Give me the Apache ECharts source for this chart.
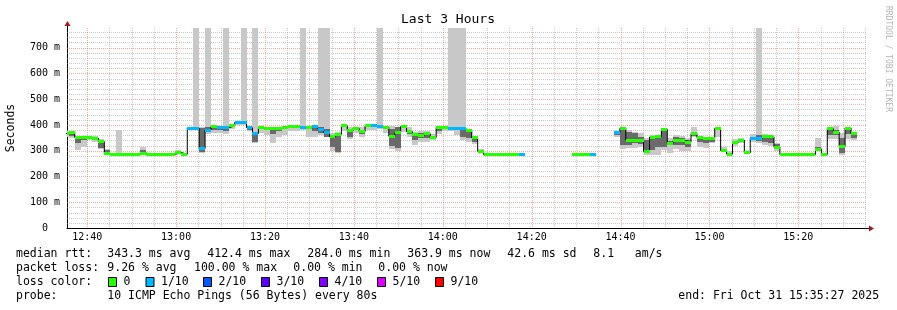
<!DOCTYPE html>
<html><head><meta charset="utf-8">
<script src="https://cdn.jsdelivr.net/npm/echarts@6/dist/echarts.min.js"></script>
<style>html,body{margin:0;padding:0;background:#fff}#c{width:897px;height:310px}</style>
</head><body><div id="c"></div>
<script>
// ---- time axis (minutes of the day) ----
const START_MIN = 755.45;          // 12:35:27
const END_MIN = 935.45;            // 15:35:27
const FIRST_STEP_END = 755.85;     // 12:35:51, end of step 0
const STEP_MIN = 80 / 60;          // 80 s steps
const Y_MAX = 776;

const xMajorTicks = [760, 780, 800, 820, 840, 860, 880, 900, 920];
const xMinorTicks = [765,770,775,785,790,795,805,810,815,825,830,835,845,850,855,865,870,875,885,890,895,905,910,915,925,930,935];
const yMajorTicks = [100, 200, 300, 400, 500, 600, 700];
const yMinorTicks = [20,40,60,80,120,140,160,180,220,240,260,280,320,340,360,380,420,440,460,480,520,540,560,580,620,640,660,680,720,740,760];

// ---- per-step data (ms), step k covers [FIRST_STEP_END+(k-1)*80s, FIRST_STEP_END+k*80s] ----
const median = [
 367,372,352,351,350,348,335,288,286,286,
 286,286,286,291,286,286,286,286,286,293,
 286,388,388,308,380,393,389,389,396,410,
 410,389,366,389,387,387,387,390,392,392,
 389,389,392,384,371,354,363,396,379,387,
 374,396,396,393,391,356,369,394,374,362,
 358,366,351,391,390,388,388,388,380,350,
 298,285,285,285,285,285,285,285,null,null,
 null,null,null,null,null,null,285,285,285,285,
 null,null,null,371,387,341,341,341,297,353,
 354,383,329,340,340,333,366,351,347,348,
 386,300,287,333,341,292,349,349,356,354,
 314,285,285,285,285,285,285,306,285,386,
 372,317,388,366,null,null];
const lossCount = [
 0,0,0,0,0,0,0,0,0,0,
 0,0,0,0,0,0,0,0,0,0,
 0,1,1,1,1,0,1,1,0,1,
 1,1,1,0,0,0,0,0,0,0,
 1,0,1,1,1,0,0,0,0,0,
 0,0,1,1,0,0,0,0,0,0,
 0,0,0,0,0,1,1,1,0,0,
 0,0,0,0,0,0,0,1,0,0,
 0,0,0,0,0,0,0,0,0,1,
 0,0,0,1,0,0,0,0,0,0,
 0,0,0,0,0,0,0,0,0,0,
 0,0,0,0,0,0,1,1,0,0,
 0,0,0,0,0,0,0,0,0,0,
 0,0,0,0,0,0];
const N = null;
const smokeLo = [
 355,350,303,316,340,335,305,286,N,286,
 N,N,N,286,N,N,N,N,N,286,
 N,380,380,292,365,368,370,365,385,400,
 400,375,330,370,360,330,355,360,375,375,
 380,355,352,360,352,300,290,378,345,370,
 355,380,380,385,370,305,300,372,355,322,
 335,335,340,365,375,375,360,340,335,325,
 290,N,N,N,N,N,N,N,N,N,
 N,N,N,N,N,N,N,N,N,N,
 N,N,N,355,305,309,309,316,284,284,
 284,303,290,305,300,300,354,316,310,329,
 354,296,284,318,329,286,335,330,322,318,
 300,N,N,N,N,N,N,298,N,345,
 345,283,345,340,N,N];
const smokeHi = [
 378,378,358,358,356,356,345,305,N,380,
 N,N,N,316,N,N,N,N,N,303,
 N,392,800,392,800,398,395,800,400,414,
 800,395,800,392,392,392,392,392,395,395,
 800,392,395,800,800,370,372,398,392,392,
 390,400,400,800,395,395,392,398,390,372,
 375,375,365,395,392,800,800,800,385,355,
 305,N,N,N,N,N,N,N,N,N,
 N,N,N,N,N,N,N,N,N,N,
 N,N,N,375,390,380,374,367,348,361,
 361,385,348,361,357,348,390,358,354,354,
 390,316,300,345,350,300,365,800,365,356,
 330,N,N,N,N,N,N,349,N,392,
 395,367,392,372,N,N];
const coreLo = [
 360,358,330,340,345,342,310,288,N,N,
 N,N,N,288,N,N,N,N,N,288,
 N,384,383,295,372,380,380,378,N,N,
 N,380,335,N,N,365,375,N,N,N,
 N,N,375,370,352,316,296,N,355,N,
 365,N,N,N,N,318,309,N,365,340,
 348,350,345,375,N,N,N,355,350,335,
 N,N,N,N,N,N,N,N,N,N,
 N,N,N,N,N,N,N,N,N,N,
 N,N,N,362,322,322,329,325,292,303,
 316,316,322,322,322,316,358,335,329,335,
 N,N,N,N,N,288,340,338,335,329,
 305,N,N,N,N,N,N,298,N,360,
 360,290,365,350,N,N];
const coreHi = [
 372,372,352,355,353,352,338,303,N,N,
 N,N,N,303,N,N,N,N,N,298,
 N,390,392,388,390,395,392,392,N,N,
 N,392,374,N,N,390,390,N,N,N,
 N,N,392,390,384,361,368,N,385,N,
 380,N,N,N,N,385,390,N,380,368,
 368,370,358,392,N,N,N,388,382,352,
 N,N,N,N,N,N,N,N,N,N,
 N,N,N,N,N,N,N,N,N,N,
 N,N,N,372,388,374,367,355,341,354,
 361,380,339,354,350,341,374,355,350,352,
 N,N,N,N,N,296,355,360,361,352,
 325,N,N,N,N,N,N,314,N,388,
 380,348,390,370,N,N];

const lossColors = {0:'#26ff00',1:'#00b8ff',2:'#0059ff',3:'#5e00ff',4:'#7e00ff',5:'#dd00ff',9:'#ff0000'};
const lossLegend = [['0',0],['1/10',1],['2/10',2],['3/10',3],['4/10',4],['5/10',5],['9/10',9]];

const statsRtt = ['343.3 ms avg','412.4 ms max','284.0 ms min','363.9 ms now','42.6 ms sd','8.1   am/s'];
const statsLoss = ['9.26 % avg','100.00 % max','0.00 % min','0.00 % now'];

// ---- build series data ----
const stepStart = k => FIRST_STEP_END + (k - 1) * STEP_MIN;
const stepEnd = k => FIRST_STEP_END + k * STEP_MIN;
const smokeData = [], barData = [], lineData = [];
for (let k = 0; k < median.length; k++) {
  const s = stepStart(k), e = stepEnd(k);
  if (smokeLo[k] != null) smokeData.push([s, e, smokeLo[k], smokeHi[k], coreLo[k] == null ? '-' : coreLo[k], coreHi[k] == null ? '-' : coreHi[k]]);
  if (median[k] == null) { lineData.push([s, null]); continue; }
  lineData.push([s, median[k]], [e, median[k]]);
  barData.push([s, e, median[k], lossCount[k]]);
}
const vGrid = xMinorTicks.map(v => [v, 0, 0]).concat(xMajorTicks.map(v => [v, 0, 1]));
const hGrid = yMinorTicks.map(v => [START_MIN, v, 0]).concat(yMajorTicks.map(v => [START_MIN, v, 1]));

const MONO = '"DejaVu Sans Mono", monospace';
const GRID_MIN = 'rgba(150,150,150,0.5)';
const GRID_MAJ = 'rgba(255,90,90,0.55)';

function fmtTime(v) {
  const h = Math.floor(v / 60), m = Math.round(v - h * 60);
  return String(h).padStart(2, '0') + ':' + String(m).padStart(2, '0');
}

function renderVGrid(params, api) {
  const cs = params.coordSys;
  const x = Math.round(api.coord([api.value(0), 0])[0]) + 0.5;
  return {type:'line', silent:true, shape:{x1:x, y1:cs.y, x2:x, y2:cs.y + cs.height},
    style:{stroke: api.value(2) ? GRID_MAJ : GRID_MIN, lineWidth:1, lineDash:[1,1]}};
}
function renderHGrid(params, api) {
  const cs = params.coordSys;
  const y = Math.round(api.coord([START_MIN, api.value(1)])[1]) + 0.5;
  return {type:'line', silent:true, shape:{x1:cs.x, y1:y, x2:cs.x + cs.width, y2:y},
    style:{stroke: api.value(2) ? GRID_MAJ : GRID_MIN, lineWidth:1, lineDash:[1,1]}};
}
function renderSmoke(params, api) {
  const cs = params.coordSys;
  const s = api.value(0), e = api.value(1);
  const x0 = Math.max(cs.x, Math.round(api.coord([s, 0])[0]));
  const x1 = Math.min(cs.x + cs.width, Math.round(api.coord([e, 0])[0]));
  if (x1 <= x0) return;
  const children = [];
  const add = (lo, hi, color) => {
    if (isNaN(lo) || isNaN(hi)) return;
    const y0 = Math.max(cs.y, Math.round(api.coord([s, hi])[1]));
    const y1 = Math.round(api.coord([s, lo])[1]);
    children.push({type:'rect', shape:{x:x0, y:y0, width:x1 - x0, height:Math.max(1, y1 - y0)}, style:{fill:color}});
  };
  add(api.value(2), api.value(3), '#c8c8c8');
  add(api.value(4), api.value(5), '#6a6a6a');
  return {type:'group', children};
}
function renderBars(params, api) {
  const cs = params.coordSys;
  const s = api.value(0), e = api.value(1);
  const x0 = Math.max(cs.x, Math.round(api.coord([s, 0])[0]));
  const x1 = Math.min(cs.x + cs.width, Math.round(api.coord([e, 0])[0]));
  if (x1 <= x0) return;
  const cy = api.coord([s, api.value(2)])[1];
  return {type:'rect', shape:{x:x0, y:Math.round(cy - 1.5), width:x1 - x0, height:3},
    style:{fill: lossColors[api.value(3)]}};
}

const chart = echarts.init(document.getElementById('c'), null, {renderer:'canvas'});
const graphics = [];
function txt(x, y, text, size, extra) {
  return Object.assign({type:'text', x:x, y:y, silent:true, z:100,
    style:{text:text, font:size + 'px ' + MONO, fill:'#000', align:'left', verticalAlign:'middle', textAlign:'left', textVerticalAlign:'middle'}}, extra || {});
}
graphics.push(txt(448, 19.5, 'Last 3 Hours', 13, {style:{text:'Last 3 Hours', font:'13px ' + MONO, fill:'#000', align:'center', verticalAlign:'middle', textAlign:'center', textVerticalAlign:'middle'}}));
graphics.push({type:'text', x:888.5, y:59, rotation:-Math.PI / 2, silent:true,
  style:{text:'RRDTOOL / TOBI OETIKER', font:'8px ' + MONO, fill:'#b4b4b4', align:'center', verticalAlign:'middle', textAlign:'center', textVerticalAlign:'middle'}});
const LS = 11.5;
const rttX = [107.3, 207.3, 307.3, 407.3, 507.3, 593.3];
graphics.push(txt(16, 254.3, 'median rtt:', LS));
statsRtt.forEach((t, i) => graphics.push(txt(rttX[i], 254.3, t, LS)));
const lossX = [107.3, 194, 293.3, 378.3];
graphics.push(txt(16, 268.3, 'packet loss:', LS));
statsLoss.forEach((t, i) => graphics.push(txt(lossX[i], 268.3, t, LS)));
graphics.push(txt(16, 282.3, 'loss color:', LS));
const boxX = [108.5, 146, 203.5, 261.5, 319.5, 377.5, 435.5];
lossLegend.forEach((it, i) => {
  graphics.push({type:'rect', silent:true, z:100, shape:{x:boxX[i], y:277.5, width:8, height:9},
    style:{fill:lossColors[it[1]], stroke:'#000', lineWidth:1}});
  graphics.push(txt(boxX[i] + 15, 282.3, it[0], LS));
});
graphics.push(txt(16, 296.3, 'probe:', LS));
graphics.push(txt(107.3, 296.3, '10 ICMP Echo Pings (56 Bytes) every 80s', LS));
graphics.push(txt(678.3, 296.3, 'end: Fri Oct 31 15:35:27 2025', LS));

chart.setOption({
  animation:false,
  backgroundColor:'#ffffff',
  grid:{left:67, right:30, top:28, bottom:82, containLabel:false, outerBoundsMode:'none'},
  xAxis:{type:'value', min:START_MIN, max:END_MIN,
    axisLine:{show:true, onZero:false, lineStyle:{color:'#000', width:1}},
    axisTick:{show:false}, splitLine:{show:false},
    axisLabel:{customValues:xMajorTicks, formatter:fmtTime, color:'#000', fontFamily:MONO, fontSize:10, margin:4}},
  yAxis:{type:'value', min:0, max:Y_MAX, interval:100,
    name:'Seconds', nameLocation:'middle', nameGap:50, nameRotate:90,
    nameTextStyle:{color:'#000', fontFamily:MONO, fontSize:11.5},
    axisLine:{show:true, lineStyle:{color:'#000', width:1}},
    axisTick:{show:false}, splitLine:{show:false},
    axisLabel:{color:'#000', fontFamily:MONO, fontSize:10, margin:7,
      formatter: v => v === 0 ? '0  ' : (v % 100 === 0 ? v + ' m' : '')}},
  series:[
    {type:'custom', name:'vgrid', renderItem:renderVGrid, data:vGrid, z:1, silent:true},
    {type:'custom', name:'hgrid', renderItem:renderHGrid, data:hGrid, z:1, silent:true},
    {type:'custom', name:'smoke', renderItem:renderSmoke, data:smokeData, z:3, silent:true},
    {type:'line', name:'median', data:lineData, z:4, symbol:'none', connectNulls:false, silent:true,
      lineStyle:{color:'#000', width:1}},
    {type:'custom', name:'loss', renderItem:renderBars, data:barData, z:5, silent:true}
  ],
  graphic:graphics
});

// axis arrows (decoration) anchored to axis ends
const pR = chart.convertToPixel({gridIndex:0}, [END_MIN, 0]);
const pT = chart.convertToPixel({gridIndex:0}, [START_MIN, Y_MAX]);
const xr = Math.round(pR[0]), yb = Math.round(pR[1]) + 0.5;
const xl = Math.round(pT[0]) + 0.5, yt = Math.round(pT[1]);
graphics.push({type:'line', silent:true, z:100, shape:{x1:xr, y1:yb, x2:xr + 2, y2:yb}, style:{stroke:'#000', lineWidth:1}});
graphics.push({type:'polygon', silent:true, z:100, shape:{points:[[xr + 2, yb - 3], [xr + 2, yb + 3], [xr + 7, yb]]}, style:{fill:'#a01818'}});
graphics.push({type:'line', silent:true, z:100, shape:{x1:xl, y1:yt, x2:xl, y2:yt - 2}, style:{stroke:'#000', lineWidth:1}});
graphics.push({type:'polygon', silent:true, z:100, shape:{points:[[xl - 3, yt - 2], [xl + 3, yt - 2], [xl, yt - 7]]}, style:{fill:'#a01818'}});
chart.setOption({graphic:graphics});
</script></body></html>
